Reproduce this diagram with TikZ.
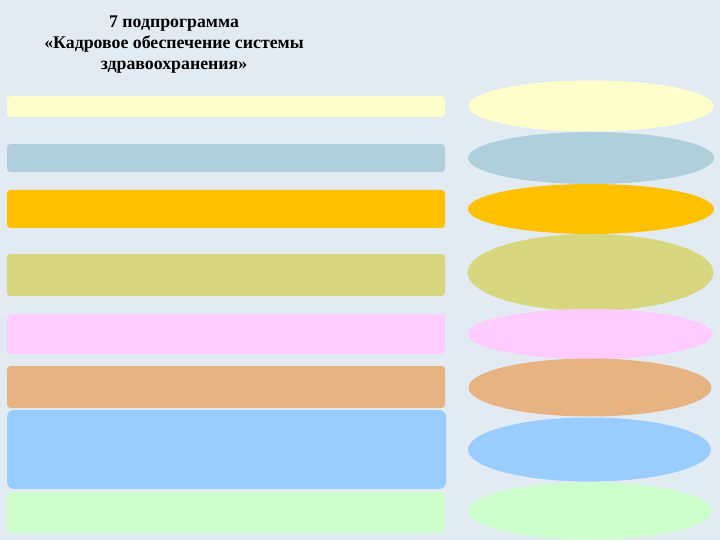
\documentclass[tikz,border=0pt]{standalone}
\usepackage{fontspec}
\setmainfont{Liberation Serif}
\usetikzlibrary{shapes.geometric}

\definecolor{bgblue}{HTML}{E3EBF2}
\definecolor{cyellow}{HTML}{FFFFCC}
\definecolor{cgrayblue}{HTML}{B0CFDC}
\definecolor{corange}{HTML}{FFC000}
\definecolor{colive}{HTML}{D7D77F}
\definecolor{cpink}{HTML}{FFCCFF}
\definecolor{ctan}{HTML}{E7B383}
\definecolor{cskyblue}{HTML}{99CCFF}
\definecolor{cmint}{HTML}{CCFFCC}

\begin{document}
\begin{tikzpicture}
        [x=1pt, y=-1pt,
        bar/.style={rectangle, rounded corners=3.5pt, inner sep=0pt, outer sep=0pt, minimum width=438pt},
        oval/.style={ellipse, inner sep=0pt, outer sep=0pt},
        heading/.style={align=center, font=\bfseries\fontsize{17.8}{21}\selectfont, inner sep=0pt}]

        % background
        \fill[bgblue] (0,0) rectangle (720,540);
        \useasboundingbox (0,0) rectangle (720,540);

        % title
        \node[heading, anchor=north] (title) at (174,16) {7 подпрограмма\\«Кадровое обеспечение системы\\здравоохранения»};

        % bars on the left
        \node[bar, fill=cyellow, minimum height=21pt] (b1) at (226,106.5) {};
        \node[bar, fill=cgrayblue, minimum height=28pt] (b2) at (226,158) {};
        \node[bar, fill=corange, minimum height=38pt] (b3) at (226,209) {};
        \node[bar, fill=colive, minimum height=42pt] (b4) at (226,275) {};
        \node[bar, fill=cpink, minimum height=40pt] (b5) at (226,334) {};
        \node[bar, fill=ctan, minimum height=42pt] (b6) at (226,387) {};
        \node[bar, fill=cskyblue, minimum height=79pt, minimum width=439pt, rounded corners=7pt] (b7) at (226.5,449.5) {};
        \node[bar, fill=cmint, minimum height=41pt] (b8) at (226,512.5) {};

        % ovals on the right
        \node[oval, fill=cyellow, minimum width=245pt, minimum height=51pt] (e1) at (591,106) {};
        \node[oval, fill=cgrayblue, minimum width=246pt, minimum height=52pt] (e2) at (591,158) {};
        \node[oval, fill=corange, minimum width=246pt, minimum height=50pt] (e3) at (591,209) {};
        \node[oval, fill=colive, minimum width=246pt, minimum height=77pt] (e4) at (590.5,272.5) {};
        \node[oval, fill=cpink, minimum width=245pt, minimum height=50pt] (e5) at (590,334) {};
        \node[oval, fill=ctan, minimum width=243pt, minimum height=58pt] (e6) at (590,387.5) {};
        \node[oval, fill=cskyblue, minimum width=243pt, minimum height=64pt] (e7) at (589.5,449.5) {};
        \node[oval, fill=cmint, minimum width=244pt, minimum height=57pt] (e8) at (590,511) {};

\end{tikzpicture}
\end{document}
